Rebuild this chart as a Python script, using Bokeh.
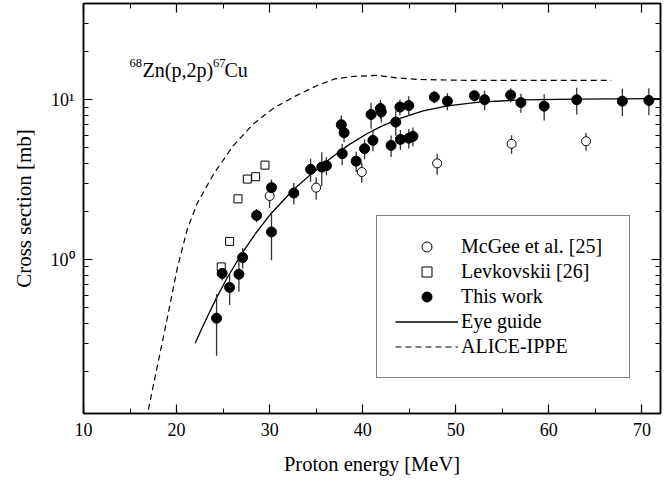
from bokeh.plotting import figure
from bokeh.models import (ColumnDataSource, Legend, LegendItem, LinearAxis, LogAxis,
                          LogTicker, SingleIntervalTicker, Range1d, Label,
                          CustomJSTickFormatter)
from bokeh.embed import file_html
from bokeh.resources import INLINE

# ---------------- data ----------------
# This work (filled circles)
tw_energy = [24.3, 24.9, 25.7, 26.7, 27.1, 28.6, 30.2, 30.2, 32.6, 34.4,
             35.6, 36.1, 37.7, 37.8, 38.0, 39.3, 40.2, 40.9, 41.1, 41.9,
             42.0, 43.05, 43.55, 44.0, 44.05, 44.95, 44.95, 45.4, 47.7, 49.1,
             52.0, 53.1, 55.9, 57.0, 59.5, 63.0, 67.9, 70.75]
tw_sigma = [0.43, 0.82, 0.67, 0.81, 1.03, 1.89, 1.49, 2.82, 2.61, 3.67,
            3.79, 3.87, 6.98, 4.60, 6.22, 4.13, 4.94, 8.09, 5.57, 8.8,
            8.4, 5.18, 7.25, 9.0, 5.65, 9.2, 5.75, 5.9, 10.4, 9.8,
            10.6, 10.0, 10.7, 9.6, 9.12, 10.0, 9.8, 9.9]
tw_err = [0.18, 0.08, 0.15, 0.18, 0.15, 0.18, 0.5, 0.35, 0.4, 0.6,
          0.9, 0.5, 1.0, 0.7, 0.8, 0.6, 0.7, 1.5, 0.8, 1.2,
          1.2, 0.8, 1.3, 1.0, 0.8, 1.3, 0.8, 0.8, 0.9, 1.2,
          0.8, 1.4, 1.1, 1.3, 1.7, 1.9, 1.9, 1.9]

# McGee et al. [25] (open circles)
mc_energy = [30.0, 35.0, 39.9, 48.0, 56.0, 64.0]
mc_sigma = [2.50, 2.82, 3.53, 4.0, 5.3, 5.5]
mc_err = [0.4, 0.45, 0.5, 0.6, 0.7, 0.7]

# Levkovskii [26] (open squares)
lv_energy = [24.8, 25.7, 26.6, 27.6, 28.5, 29.5]
lv_sigma = [0.90, 1.30, 2.40, 3.19, 3.30, 3.90]

# Eye guide (solid line)
eg_energy = [22.0, 23.0, 24.25, 25.4, 27.0, 28.5, 30.25, 32.55, 34.5, 36.8,
             38.5, 40.4, 42.0, 44.0, 46.5, 49.1, 52.5, 57.0, 62.9, 67.0, 72.0]
eg_sigma = [0.30, 0.403, 0.57, 0.762, 1.089, 1.462, 1.972, 2.735, 3.45, 4.42,
            5.22, 6.11, 6.82, 7.66, 8.51, 9.16, 9.66, 9.98, 10.09, 10.14, 10.16]

# ALICE-IPPE (dashed line)
al_energy = [16.75, 17.93, 19.0, 20.07, 21.15, 22.22, 24.0, 26.1, 28.28, 30.39,
             32.56, 35.0, 37.02, 39.0, 41.5, 43.6, 46.0, 50.0, 54.5, 60.0, 66.7]
al_sigma = [0.10, 0.215, 0.43, 0.88, 1.55, 2.25, 3.45, 5.17, 7.08, 8.83,
            10.4, 12.2, 13.5, 14.0, 14.2, 13.7, 13.4, 13.25, 13.2, 13.2, 13.2]

x_ticks_interval = 10
legend_labels = ["McGee et al. [25]", "Levkovskii [26]", "This work", "Eye guide", "ALICE-IPPE"]

FONT = "Liberation Serif, Times New Roman, serif"

# ---------------- figure ----------------
p = figure(width=671, height=485, output_backend="svg", toolbar_location=None,
           y_axis_type="log", x_range=Range1d(10, 72), y_range=Range1d(0.109, 40),
           min_border_left=83, min_border_right=11, min_border_top=3, min_border_bottom=72)
p.grid.visible = False
p.outline_line_color = "black"
p.outline_line_width = 1.5
p.background_fill_color = "white"
p.border_fill_color = "white"


def style_axis(ax, labels=True):
    ax.axis_line_color = "black"
    ax.axis_line_width = 1.5
    ax.major_tick_in = 9
    ax.major_tick_out = 0
    ax.minor_tick_in = 5
    ax.minor_tick_out = 0
    ax.major_tick_line_color = "black"
    ax.minor_tick_line_color = "black"
    ax.major_tick_line_width = 1.2
    ax.minor_tick_line_width = 1.0
    ax.major_label_text_font = FONT
    ax.major_label_text_color = "black"
    ax.axis_label_text_font = FONT
    ax.axis_label_text_font_style = "normal"
    ax.axis_label_text_color = "black"
    if labels:
        ax.major_label_text_font_size = "18px"
    else:
        ax.formatter = CustomJSTickFormatter(code="return ''")
        ax.major_label_text_font_size = "1px"
        ax.major_label_standoff = 0


xa = p.xaxis[0]
xa.ticker = SingleIntervalTicker(interval=x_ticks_interval, num_minor_ticks=2)
style_axis(xa)
xa.major_label_standoff = 9
xa.axis_label = "Proton energy [MeV]"
xa.axis_label_text_font_size = "20.5px"
xa.axis_label_standoff = 14

ya = p.yaxis[0]
ya.ticker = LogTicker(num_minor_ticks=10)
style_axis(ya)
ya.major_label_standoff = 9
ya.major_label_overrides = {1: "10\u2070", 10: "10\u00b9"}
ya.axis_label = "Cross section [mb]"
ya.axis_label_text_font_size = "21px"
ya.axis_label_standoff = 12

top = LinearAxis(ticker=SingleIntervalTicker(interval=x_ticks_interval, num_minor_ticks=2))
style_axis(top, labels=False)
p.add_layout(top, "above")

right = LogAxis(ticker=LogTicker(num_minor_ticks=10))
style_axis(right, labels=False)
p.add_layout(right, "right")

# ---------------- curves ----------------
r_alice = p.line(al_energy, al_sigma, line_color="black", line_width=1.2, line_dash="6 4")
r_eye = p.line(eg_energy, eg_sigma, line_color="black", line_width=1.3)

# ---------------- error bars ----------------
tw_src = ColumnDataSource(dict(
    x=tw_energy, y=tw_sigma,
    lo=[s - e for s, e in zip(tw_sigma, tw_err)],
    hi=[s + e for s, e in zip(tw_sigma, tw_err)]))
mc_src = ColumnDataSource(dict(
    x=mc_energy, y=mc_sigma,
    lo=[s - e for s, e in zip(mc_sigma, mc_err)],
    hi=[s + e for s, e in zip(mc_sigma, mc_err)]))
p.segment(x0="x", y0="lo", x1="x", y1="hi", source=mc_src, line_color="#333333", line_width=1.3)
p.segment(x0="x", y0="lo", x1="x", y1="hi", source=tw_src, line_color="#333333", line_width=1.3)

# ---------------- markers ----------------
r_lv = p.scatter(lv_energy, lv_sigma, marker="square", size=8, fill_color="white",
                 line_color="black", line_width=1.0)
r_mc = p.scatter("x", "y", source=mc_src, marker="circle", size=9, fill_color="white",
                 line_color="black", line_width=1.0)
r_tw = p.scatter("x", "y", source=tw_src, marker="circle", size=10, fill_color="black",
                 line_color="black", line_width=1.0)

# ---------------- legend ----------------
legend = Legend(items=[
    LegendItem(label=legend_labels[0], renderers=[r_mc]),
    LegendItem(label=legend_labels[1], renderers=[r_lv]),
    LegendItem(label=legend_labels[2], renderers=[r_tw]),
    LegendItem(label=legend_labels[3], renderers=[r_eye]),
    LegendItem(label=legend_labels[4], renderers=[r_alice]),
], location=(293, 35))
legend.label_text_font = FONT
legend.label_text_font_size = "20px"
legend.label_text_color = "black"
legend.glyph_width = 63
legend.glyph_height = 25
legend.label_height = 25
legend.label_width = 150
legend.label_standoff = 3
legend.spacing = 0
legend.padding = 18
legend.margin = 0
legend.border_line_color = "black"
legend.border_line_width = 1.2
legend.background_fill_color = "white"
legend.background_fill_alpha = 1.0
p.add_layout(legend)

# ---------------- reaction annotation ----------------
def add_label(text, x, y, size):
    p.add_layout(Label(x=x, y=y, x_units="screen", y_units="screen", text=text,
                       text_font=FONT, text_font_size=size, text_color="black",
                       text_align="left", text_baseline="alphabetic"))

add_label("68", 46, 351, "12.5px")
add_label("Zn(p,2p)", 59, 344, "20px")
add_label("67", 129.5, 351, "12.5px")
add_label("Cu", 141, 344, "20px")

open("out.html", "w").write(file_html(p, INLINE))
